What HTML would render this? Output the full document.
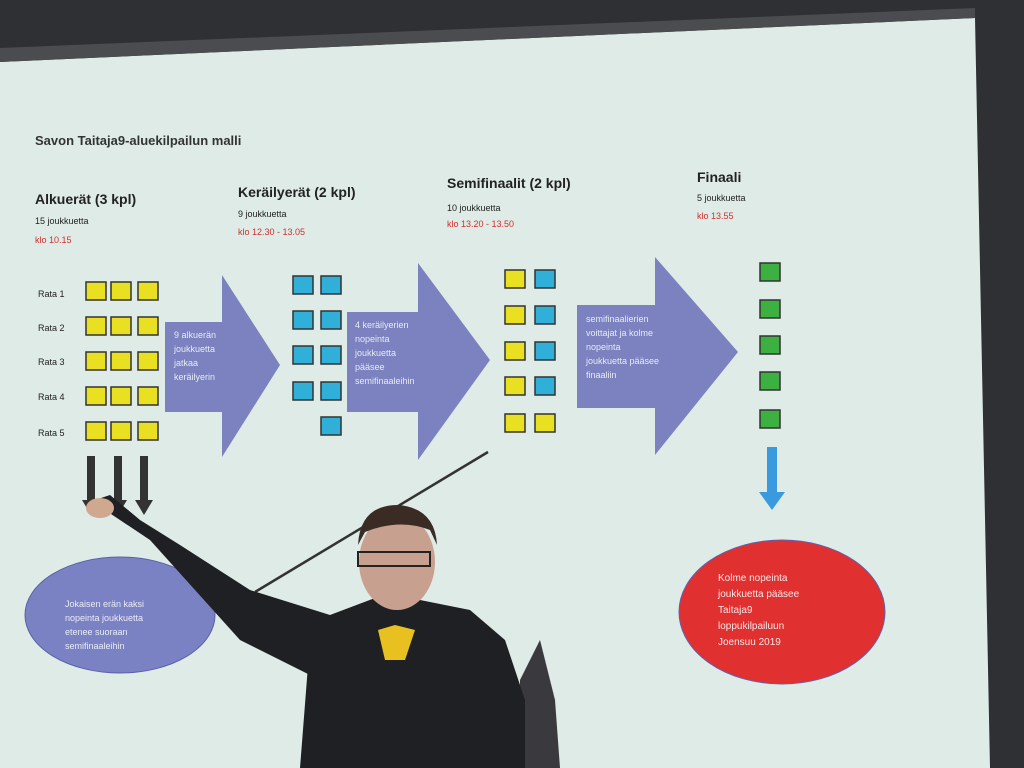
<!DOCTYPE html>
<html><head><meta charset="utf-8"><style>
html,body{margin:0;padding:0;width:1024px;height:768px;overflow:hidden;background:#2f3033}
svg{display:block}
text{font-family:"Liberation Sans",sans-serif}
</style></head><body>
<svg width="1024" height="768" viewBox="0 0 1024 768">
<rect width="1024" height="768" fill="#2f3033"/>
<polygon points="0,62 975,18 990,768 0,768" fill="#dfebe6"/>
<polygon points="0,48 975,8 975,18 0,62" fill="#4a4c4f"/>
<g fill="#222">
<text x="35" y="145" font-size="13" font-weight="bold" fill="#333">Savon Taitaja9-aluekilpailun malli</text>
<text x="35" y="204" font-size="14" font-weight="bold">Alkuerät (3 kpl)</text>
<text x="35" y="224" font-size="9">15 joukkuetta</text>
<text x="35" y="243" font-size="9" fill="#d03030">klo 10.15</text>
<text x="238" y="197" font-size="14" font-weight="bold">Keräilyerät (2 kpl)</text>
<text x="238" y="217" font-size="9">9 joukkuetta</text>
<text x="238" y="235" font-size="9" fill="#d03030">klo 12.30 - 13.05</text>
<text x="447" y="188" font-size="14" font-weight="bold">Semifinaalit (2 kpl)</text>
<text x="447" y="211" font-size="9">10 joukkuetta</text>
<text x="447" y="227" font-size="9" fill="#d03030">klo 13.20 - 13.50</text>
<text x="697" y="182" font-size="14" font-weight="bold">Finaali</text>
<text x="697" y="201" font-size="9">5 joukkuetta</text>
<text x="697" y="219" font-size="9" fill="#d03030">klo 13.55</text>
<text x="38" y="297" font-size="9">Rata 1</text>
<text x="38" y="331" font-size="9">Rata 2</text>
<text x="38" y="365" font-size="9">Rata 3</text>
<text x="38" y="400" font-size="9">Rata 4</text>
<text x="38" y="436" font-size="9">Rata 5</text>
</g>
<g fill="#7b82bf">
<polygon points="165,322 222,322 222,275 280,365 222,457 222,412 165,412"/>
<polygon points="347,312 418,312 418,263 490,360 418,460 418,412 347,412"/>
<polygon points="577,305 655,305 655,257 738,352 655,455 655,408 577,408"/>
</g>
<g fill="#e6ecf4" font-size="9">
<text x="174" y="338">9 alkuerän</text><text x="174" y="352">joukkuetta</text><text x="174" y="366">jatkaa</text><text x="174" y="380">keräilyerin</text>
<text x="355" y="328">4  keräilyerien</text><text x="355" y="342">nopeinta</text><text x="355" y="356">joukkuetta</text><text x="355" y="370">pääsee</text><text x="355" y="384">semifinaaleihin</text>
<text x="586" y="322">semifinaalierien</text><text x="586" y="336">voittajat ja kolme</text><text x="586" y="350">nopeinta</text><text x="586" y="364">joukkuetta pääsee</text><text x="586" y="378">finaaliin</text>
</g>
<g stroke="#333" stroke-width="1.5">
<g fill="#e8e020">
<rect x="86" y="282" width="20" height="18"/><rect x="111" y="282" width="20" height="18"/><rect x="138" y="282" width="20" height="18"/>
<rect x="86" y="317" width="20" height="18"/><rect x="111" y="317" width="20" height="18"/><rect x="138" y="317" width="20" height="18"/>
<rect x="86" y="352" width="20" height="18"/><rect x="111" y="352" width="20" height="18"/><rect x="138" y="352" width="20" height="18"/>
<rect x="86" y="387" width="20" height="18"/><rect x="111" y="387" width="20" height="18"/><rect x="138" y="387" width="20" height="18"/>
<rect x="86" y="422" width="20" height="18"/><rect x="111" y="422" width="20" height="18"/><rect x="138" y="422" width="20" height="18"/>
<rect x="505" y="270" width="20" height="18"/><rect x="505" y="306" width="20" height="18"/><rect x="505" y="342" width="20" height="18"/><rect x="505" y="377" width="20" height="18"/><rect x="505" y="414" width="20" height="18"/><rect x="535" y="414" width="20" height="18"/>
</g>
<g fill="#30b0d8">
<rect x="293" y="276" width="20" height="18"/><rect x="321" y="276" width="20" height="18"/>
<rect x="293" y="311" width="20" height="18"/><rect x="321" y="311" width="20" height="18"/>
<rect x="293" y="346" width="20" height="18"/><rect x="321" y="346" width="20" height="18"/>
<rect x="293" y="382" width="20" height="18"/><rect x="321" y="382" width="20" height="18"/>
<rect x="321" y="417" width="20" height="18"/>
<rect x="535" y="270" width="20" height="18"/><rect x="535" y="306" width="20" height="18"/><rect x="535" y="342" width="20" height="18"/><rect x="535" y="377" width="20" height="18"/>
</g>
<g fill="#3cb040">
<rect x="760" y="263" width="20" height="18"/><rect x="760" y="300" width="20" height="18"/><rect x="760" y="336" width="20" height="18"/><rect x="760" y="372" width="20" height="18"/><rect x="760" y="410" width="20" height="18"/>
</g>
</g>
<polygon points="767,447 777,447 777,492 785,492 772,510 759,492 767,492" fill="#3a9ae0"/>
<g fill="#333">
<polygon points="87,456 95,456 95,500 100,500 91,515 82,500 87,500"/>
<polygon points="114,456 122,456 122,500 127,500 118,515 109,500 114,500"/>
<polygon points="140,456 148,456 148,500 153,500 144,515 135,500 140,500"/>
</g>
<line x1="255" y1="592" x2="488" y2="452" stroke="#333" stroke-width="2.5"/>
<ellipse cx="120" cy="615" rx="95" ry="58" fill="#7b82c4" stroke="#5a60a8"/>
<g fill="#e8ecf6" font-size="9"><text x="65" y="607">Jokaisen erän  kaksi</text><text x="65" y="621">nopeinta  joukkuetta</text><text x="65" y="635">etenee suoraan</text><text x="65" y="649">semifinaaleihin</text></g>
<ellipse cx="782" cy="612" rx="103" ry="72" fill="#e03030" stroke="#6060b0"/>
<g fill="#f8e8e8" font-size="10"><text x="718" y="581">Kolme nopeinta</text><text x="718" y="597">joukkuetta pääsee</text><text x="718" y="613">Taitaja9</text><text x="718" y="629">loppukilpailuun</text><text x="718" y="645">Joensuu 2019</text></g>
<!-- person -->
<path d="M520,680 L540,640 L555,700 L560,768 L520,768 Z" fill="#3a3a3e"/>
<path d="M300,768 L310,640 L330,615 L375,598 L420,600 L470,610 L505,640 L525,700 L525,768 Z" fill="#1f2024"/>
<path d="M150,540 L105,510 L95,500 L110,495 L140,520 L180,545 L250,590 L330,615 L320,680 L240,640 Z" fill="#1f2024"/>
<ellipse cx="397" cy="562" rx="38" ry="48" fill="#c8a090"/>
<path d="M358,545 Q360,505 398,505 Q435,508 437,545 L430,530 Q400,518 365,532 Z" fill="#3a2c24"/>
<rect x="358" y="552" width="72" height="14" fill="none" stroke="#222" stroke-width="2"/>
<path d="M378,630 L395,625 L415,630 L405,660 L385,660 Z" fill="#e8c020"/>
<ellipse cx="100" cy="508" rx="14" ry="10" fill="#d0a890"/>
</svg>
</body></html>
